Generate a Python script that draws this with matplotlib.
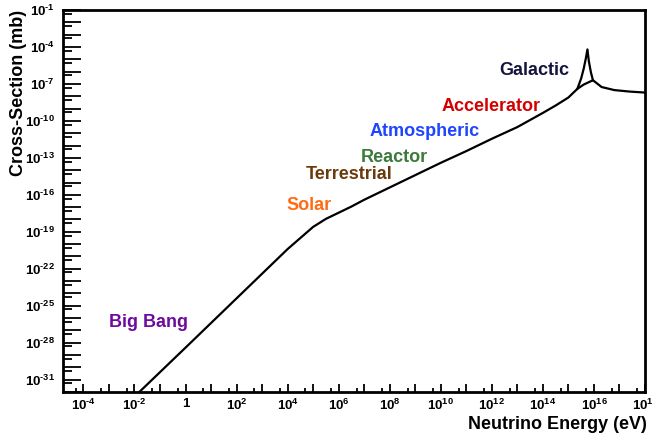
import numpy as np
import matplotlib
matplotlib.use("Agg")
import matplotlib.pyplot as plt
from matplotlib.ticker import LogLocator, FuncFormatter, NullFormatter

plt.rcParams["font.family"] = ["Liberation Sans", "DejaVu Sans"]
plt.rcParams["font.weight"] = "bold"
plt.rcParams["mathtext.fontset"] = "custom"
plt.rcParams["mathtext.rm"] = "Liberation Sans:bold"
plt.rcParams["mathtext.bf"] = "Liberation Sans:bold"
plt.rcParams["mathtext.it"] = "Liberation Sans:bold"

# cross-section curve (log10 E [eV], log10 sigma [mb])
main_log_e = [-1.8, 0.0, 2.0, 4.0, 4.5, 5.0, 5.5, 6.0, 6.5, 7.0, 8.0, 9.0, 10.0,
              11.0, 12.0, 13.0, 14.0, 14.5, 15.0, 15.35, 15.6, 15.96, 16.3,
              16.8, 17.4, 18.0]
main_log_xs = [-31.98, -28.4, -24.4, -20.4, -19.5, -18.6, -17.95, -17.45, -16.95,
               -16.4, -15.4, -14.4, -13.4, -12.45, -11.45, -10.5, -9.35, -8.75,
               -8.1, -7.4, -7.05, -6.7, -7.25, -7.5, -7.62, -7.7]

# Glashow resonance bump
res_log_e = [15.35, 15.5, 15.6, 15.68, 15.745, 15.8, 15.88, 15.96]
res_log_xs = [-7.4, -6.55, -5.75, -4.95, -4.2, -5.15, -6.05, -6.7]

# source labels and their colours
sources = ["Big Bang", "Solar", "Terrestrial", "Reactor", "Atmospheric",
           "Accelerator", "Galactic"]
source_colors = ["#6e0a9e", "#ff6a13", "#6b3a0a", "#3a7a3a", "#1f45ff",
                 "#d40000", "#14143c"]
label_log_e = [-3.0, 3.95, 4.7, 6.88, 7.2, 10.02, 12.28]
label_log_xs = [-26.4, -16.83, -14.39, -12.93, -10.9, -8.87, -5.87]


def pow_label(n):
    # ROOT-style 10^n, short hyphen instead of the wide math minus
    exp = str(n).replace("-", r"\text{-}")
    return r"$10^{%s}$" % exp


def x_fmt(v, pos):
    n = int(round(np.log10(v)))
    if n % 2:
        return ""
    if n == 0:
        return "1"
    return pow_label(n)


def y_fmt(v, pos):
    n = int(round(np.log10(v)))
    if (n + 1) % 3:
        return ""
    return pow_label(n)


fig, ax = plt.subplots(figsize=(6.52, 4.36), dpi=100)
fig.subplots_adjust(left=63 / 652, right=645 / 652, bottom=1 - 392 / 436,
                    top=1 - 10 / 436)

ax.plot(10 ** np.array(main_log_e), 10 ** np.array(main_log_xs),
        color="black", lw=1.6, solid_joinstyle="round")
ax.plot(10 ** np.array(res_log_e), 10 ** np.array(res_log_xs),
        color="black", lw=1.6, solid_joinstyle="round")

for name, c, le, lx in zip(sources, source_colors, label_log_e, label_log_xs):
    ax.text(10 ** le, 10 ** lx, name, color=c, fontsize=13, fontweight="bold",
            ha="left", va="center")

ax.set_xscale("log")
ax.set_yscale("log")
ax.set_xlim(10 ** -4.8, 1e18)
ax.set_ylim(1e-32, 1e-1)

ax.xaxis.set_major_locator(LogLocator(base=10, subs=[1.0], numticks=60))
ax.xaxis.set_minor_locator(LogLocator(base=10, subs=[5.0], numticks=60))
ax.yaxis.set_major_locator(LogLocator(base=10, subs=[1.0], numticks=60))
ax.yaxis.set_minor_locator(LogLocator(base=10, subs=[5.0], numticks=60))
ax.xaxis.set_major_formatter(FuncFormatter(x_fmt))
ax.yaxis.set_major_formatter(FuncFormatter(y_fmt))
ax.xaxis.set_minor_formatter(NullFormatter())
ax.yaxis.set_minor_formatter(NullFormatter())

ax.tick_params(axis="x", which="major", direction="in", length=6, width=1.3,
               labelsize=9.5, pad=4)
ax.tick_params(axis="x", which="minor", direction="in", length=3, width=1.3)
ax.tick_params(axis="y", which="major", direction="in", length=13, width=1.3,
               labelsize=9.5, pad=6)
ax.tick_params(axis="y", which="minor", direction="in", length=6.5, width=1.3)
ax.tick_params(top=False, right=False, which="both")

for sp in ax.spines.values():
    sp.set_linewidth(2.0)

ax.set_xlabel("Neutrino Energy (eV)", fontsize=13, fontweight="bold")
ax.xaxis.set_label_coords(1.003, -0.064)
ax.xaxis.label.set_ha("right")
ax.xaxis.label.set_va("top")
ax.set_ylabel("Cross-Section (mb)", fontsize=13, fontweight="bold")
ax.yaxis.set_label_coords(-0.062, 1.0)
ax.yaxis.label.set_ha("right")

fig.savefig("out.png", dpi=100)
